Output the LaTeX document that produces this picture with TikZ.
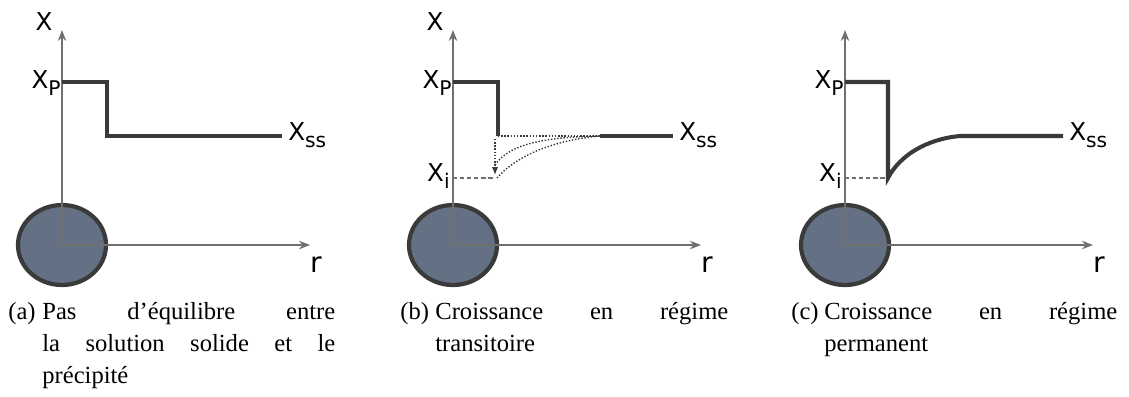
\documentclass[tikz,border=0pt]{standalone}
\usepackage{fontspec}
\setmainfont{Liberation Serif}
\newfontfamily\labelfont{DejaVu Sans}
\usepackage{tikz}
\usetikzlibrary{arrows.meta,positioning,calc}
\definecolor{profgray}{RGB}{58,58,58}
\definecolor{axisgray}{RGB}{112,112,112}
\definecolor{grainblue}{RGB}{100,112,132}

% label X with a lowered index
\newcommand{\xlab}[1]{X\raisebox{-0.55ex}{\fontsize{11.5}{12}\selectfont #1}}

\begin{document}
\begin{tikzpicture}[x=0.02cm, y=-0.02cm,
    axis/.style={axisgray, line width=0.75pt, -{Stealth[length=2.2mm, width=1.7mm]}},
    profile/.style={profgray, line width=2.3pt, line join=miter},
    grain/.style={draw=profgray, line width=2.4pt, fill=grainblue},
    guide/.style={axisgray, dashed, line width=0.6pt, dash pattern=on 2.5pt off 1.5pt},
    trail/.style={profgray, densely dotted, line width=0.8pt},
    lab/.style={font=\labelfont\fontsize{14}{15}\selectfont, inner sep=0pt},
    rlab/.style={font=\labelfont\fontsize{16}{17}\selectfont, inner sep=0pt},
    captag/.style={anchor=north west, inner sep=0pt, font=\fontsize{14}{18.1}\selectfont},
    captext/.style={captag, text width=5.86cm, align=justify}
]
\useasboundingbox (0,0) rectangle (1129,396);

% (a) no equilibrium
\begin{scope}[shift={(62,245)}]
\draw[grain] (0,0) ellipse [x radius=44, y radius=40];
\coordinate (oa) at (0,0);
\coordinate (ya) at (0,-215);
\coordinate (xa) at (248,0);
\draw[axis] (oa) -- (ya);
\draw[axis] (oa) -- (xa);
\node[lab, anchor=base] (Xa) at (-18,-215) {X};
\node[rlab, anchor=base] (ra) at (254,27) {r};
\node[lab, anchor=base east] (Xpa) at (-1,-157) {\xlab{P}};
\node[lab, anchor=base west] (Xssa) at (226,-105) {\xlab{ss}};
\draw[profile] (0,-163) -- (45,-163) -- (45,-109) -- (220,-109);
\end{scope}

% (b) transient growth
\begin{scope}[shift={(453,245)}]
\draw[grain] (0,0) ellipse [x radius=44, y radius=40];
\coordinate (ob) at (0,0);
\coordinate (yb) at (0,-215);
\coordinate (xb) at (248,0);
\draw[axis] (ob) -- (yb);
\draw[axis] (ob) -- (xb);
\node[lab, anchor=base] (Xb) at (-18,-215) {X};
\node[rlab, anchor=base] (rb) at (254,27) {r};
\node[lab, anchor=base east] (Xpb) at (-1,-157) {\xlab{P}};
\node[lab, anchor=base west] (Xssb) at (226,-105) {\xlab{ss}};
\node[lab, anchor=base east] (Xib) at (-3,-64) {\xlab{i}};
\draw[profile] (0,-163) -- (45,-163) -- (45,-109);
\draw[profile] (147,-109) -- (220,-109);
\draw[guide] (0,-67) -- (42,-67);
\draw[trail] (45,-109) -- (147,-109);
\draw[trail, -{Latex[length=1.6mm, width=1.3mm]}] (42,-106) -- (42,-70);
\draw[trail] (42,-80) .. controls (56,-101) and (92,-108) .. (147,-109);
\draw[trail] (44,-67) .. controls (64,-90) and (102,-105) .. (147,-109);
\end{scope}

% (c) steady growth
\begin{scope}[shift={(845,245)}]
\draw[grain] (0,0) ellipse [x radius=44, y radius=40];
\coordinate (oc) at (0,0);
\coordinate (yc) at (0,-215);
\coordinate (xc) at (248,0);
\draw[axis] (oc) -- (yc);
\draw[axis] (oc) -- (xc);
\node[rlab, anchor=base] (rc) at (254,27) {r};
\node[lab, anchor=base east] (Xpc) at (-1,-157) {\xlab{P}};
\node[lab, anchor=base west] (Xssc) at (224,-105) {\xlab{ss}};
\node[lab, anchor=base east] (Xic) at (-3,-64) {\xlab{i}};
\draw[guide] (0,-67) -- (43,-67);
\draw[profile] (0,-163) -- (43,-163) -- (43,-67)
  .. controls (55,-90) and (82,-106) .. (115,-109) -- (218,-109);
\end{scope}

% Captions
\node[captag] (tagA) at (8,302) {(a)};
\node[captext] (capA) at (42,302) {Pas d'équilibre entre\linebreak la solution solide et le\linebreak précipité};
\node[captag] (tagB) at (400,302) {(b)};
\node[captext] (capB) at (435,302) {Croissance en régime\linebreak transitoire};
\node[captag] (tagC) at (791,302) {(c)};
\node[captext] (capC) at (824,302) {Croissance en régime\linebreak permanent};
\end{tikzpicture}
\end{document}
